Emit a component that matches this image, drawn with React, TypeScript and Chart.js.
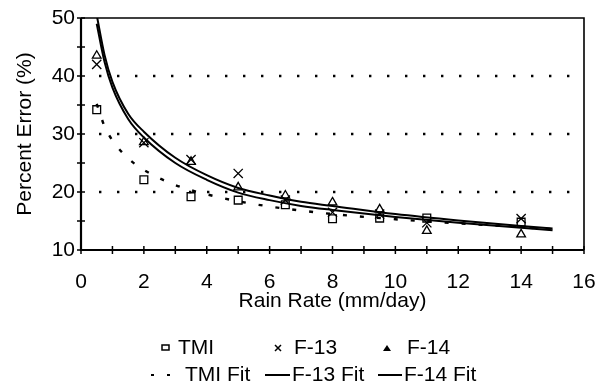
import React, { useEffect, useRef } from "react";
import { Chart, registerables } from "chart.js";

Chart.register(...registerables);

// Observed data (rain rate in mm/day, percent error)
const rainRates = [0.5, 2, 3.5, 5, 6.5, 8, 9.5, 11, 14];
const tmi = [34.2, 22.1, 19.2, 18.6, 17.8, 15.4, 15.5, 15.5, 14.8];
const f13 = [42.0, 28.5, 25.6, 23.2, 18.6, 16.5, 16.2, 14.7, 15.4];
const f14 = [43.5, 28.6, 25.2, 20.8, 19.4, 18.2, 17.0, 13.3, 12.7];

// Fit curves
const fitX = [0.5, 0.75, 1, 1.5, 2, 3, 4, 5, 6, 7, 8, 10, 12, 15];
const tmiFit = [35.2, 31.3, 28.9, 25.8, 23.8, 21.2, 19.6, 18.4, 17.5, 16.8, 16.2, 15.3, 14.6, 13.6];
const f13Fit = [49.0, 42.4, 38.0, 32.6, 29.4, 25.0, 22.1, 19.9, 18.6, 17.6, 16.9, 15.7, 14.7, 13.4];
const f14Fit = [50.5, 43.6, 39.0, 33.5, 30.4, 25.9, 22.9, 20.7, 19.4, 18.3, 17.6, 16.2, 15.1, 13.7];

const gridLines = [20, 30, 40];
const xTitle = "Rain Rate (mm/day)";
const yTitle = "Percent Error (%)";
const legendRow1 = ["TMI", "F-13", "F-14"];
const legendRow2 = ["TMI Fit", "F-13 Fit", "F-14 Fit"];

const FONT = "Arial, 'Liberation Sans', sans-serif";
const FS = 21;

const pts = (xs: number[], ys: number[]) => xs.map((x, i) => ({ x, y: ys[i] }));

const framePlugin = {
  id: "frame",
  beforeDatasetsDraw(chart: any) {
    const { ctx, chartArea, scales } = chart;
    const { left, right } = chartArea;
    const y = scales.y;
    ctx.save();
    ctx.strokeStyle = "#000";
    ctx.lineWidth = 2.4;
    ctx.setLineDash([2.4, 15.6]);
    for (const v of gridLines) {
      const py = Math.round(y.getPixelForValue(v));
      ctx.beginPath();
      ctx.moveTo(left + 18, py);
      ctx.lineTo(right, py);
      ctx.stroke();
    }
    ctx.restore();
  },
  afterDatasetsDraw(chart: any) {
    const { ctx, chartArea, scales } = chart;
    const { left, right, top, bottom } = chartArea;
    const x = scales.x;
    const y = scales.y;
    ctx.save();
    ctx.strokeStyle = "#000";
    ctx.setLineDash([]);
    ctx.lineWidth = 1.6;
    ctx.beginPath();
    ctx.moveTo(left, top);
    ctx.lineTo(right, top);
    ctx.lineTo(right, bottom);
    ctx.stroke();
    ctx.lineWidth = 2.2;
    ctx.beginPath();
    ctx.moveTo(left, top);
    ctx.lineTo(left, bottom);
    ctx.lineTo(right, bottom);
    ctx.stroke();
    ctx.lineWidth = 1.5;
    for (let v = x.min; v <= x.max; v += 1) {
      const px = x.getPixelForValue(v);
      ctx.beginPath();
      ctx.moveTo(px, bottom - 4);
      ctx.lineTo(px, bottom + 4);
      ctx.stroke();
    }
    for (let v = y.min; v <= y.max; v += 5) {
      const py = y.getPixelForValue(v);
      ctx.beginPath();
      ctx.moveTo(left - 4, py);
      ctx.lineTo(left + 4, py);
      ctx.stroke();
    }
    ctx.restore();
  },
  afterDraw(chart: any) {
    const { ctx } = chart;
    ctx.save();
    ctx.fillStyle = "#000";
    ctx.strokeStyle = "#000";
    ctx.font = `${FS}px ${FONT}`;
    ctx.textBaseline = "middle";
    ctx.textAlign = "left";
    const r1 = 348;
    const r2 = 375;
    ctx.lineWidth = 1.5;
    ctx.strokeRect(162, r1 - 3, 7, 5);
    ctx.beginPath();
    ctx.moveTo(275, r1 - 3);
    ctx.lineTo(281, r1 + 3);
    ctx.moveTo(281, r1 - 3);
    ctx.lineTo(275, r1 + 3);
    ctx.stroke();
    ctx.beginPath();
    ctx.moveTo(387, r1 - 3);
    ctx.lineTo(391, r1 + 3);
    ctx.lineTo(383, r1 + 3);
    ctx.closePath();
    ctx.fill();
    ctx.fillText(legendRow1[0], 178, r1);
    ctx.fillText(legendRow1[1], 294, r1);
    ctx.fillText(legendRow1[2], 407, r1);
    ctx.lineWidth = 2;
    ctx.beginPath();
    ctx.moveTo(151, r2);
    ctx.lineTo(154, r2);
    ctx.moveTo(167, r2);
    ctx.lineTo(170, r2);
    ctx.stroke();
    ctx.beginPath();
    ctx.moveTo(265, r2);
    ctx.lineTo(290, r2);
    ctx.moveTo(378, r2);
    ctx.lineTo(402, r2);
    ctx.stroke();
    ctx.fillText(legendRow2[0], 185, r2);
    ctx.fillText(legendRow2[1], 292, r2);
    ctx.fillText(legendRow2[2], 404, r2);
    ctx.restore();
  },
};

export default function App() {
  const ref = useRef<HTMLCanvasElement>(null);
  useEffect(() => {
    if (!ref.current) return;
    const markerCommon = {
      borderColor: "#000",
      backgroundColor: "rgba(0,0,0,0)",
      borderWidth: 1.3,
      showLine: false,
    };
    const fitCommon = {
      borderColor: "#000",
      backgroundColor: "#000",
      showLine: true,
      pointRadius: 0,
      pointHoverRadius: 0,
      cubicInterpolationMode: "monotone" as const,
      fill: false,
    };
    const chart = new Chart(ref.current, {
      type: "scatter",
      data: {
        datasets: [
          { label: "TMI", data: pts(rainRates, tmi), pointStyle: "rect", pointRadius: 5.5, ...markerCommon },
          { label: "F-13", data: pts(rainRates, f13), pointStyle: "crossRot", pointRadius: 6.5, ...markerCommon },
          { label: "F-14", data: pts(rainRates, f14), pointStyle: "triangle", pointRadius: 5, ...markerCommon },
          { label: "TMI Fit", data: pts(fitX, tmiFit), borderWidth: 2.4, borderDash: [4, 13], ...fitCommon },
          { label: "F-13 Fit", data: pts(fitX, f13Fit), borderWidth: 2, ...fitCommon },
          { label: "F-14 Fit", data: pts(fitX, f14Fit), borderWidth: 2, ...fitCommon },
        ],
      },
      options: {
        animation: false,
        responsive: false,
        devicePixelRatio: 1,
        layout: { padding: { left: 0, top: 18, right: 19, bottom: 71 } },
        plugins: { legend: { display: false }, tooltip: { enabled: false } },
        scales: {
          x: {
            type: "linear",
            min: 0,
            max: 16,
            grid: { display: false, drawTicks: false },
            border: { display: false },
            ticks: { stepSize: 2, color: "#000", font: { family: FONT, size: FS }, padding: 20, maxRotation: 0 },
            title: { display: true, text: xTitle, color: "#000", font: { family: FONT, size: FS }, padding: 0 },
            afterFit(s: any) {
              s.height = 64;
              s.paddingLeft = 0;
              s.paddingRight = 0;
            },
          },
          y: {
            type: "linear",
            min: 10,
            max: 50,
            grid: { display: false, drawTicks: false },
            border: { display: false },
            ticks: { stepSize: 10, color: "#000", font: { family: FONT, size: FS }, padding: 6 },
            title: {
              display: true,
              text: yTitle,
              color: "#000",
              font: { family: FONT, size: FS },
              padding: { top: 13, bottom: 0 },
            },
            afterFit(s: any) {
              s.width = 81;
              s.paddingTop = 0;
              s.paddingBottom = 0;
            },
          },
        },
      },
      plugins: [framePlugin],
    });
    return () => chart.destroy();
  }, []);
  return (
    <div style={{ position: "fixed", left: 0, top: 0, width: 603, height: 385, background: "#fff" }}>
      <canvas ref={ref} width={603} height={385} />
    </div>
  );
}
